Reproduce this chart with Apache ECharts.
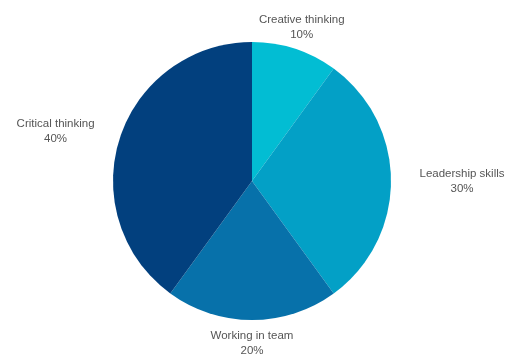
<!DOCTYPE html>
<html>
<head>
<meta charset="utf-8">
<style>
  html, body { margin: 0; padding: 0; background: #ffffff; }
  #chart { width: 507px; height: 358px; }
</style>
<script src="https://cdn.jsdelivr.net/npm/echarts@6/dist/echarts.min.js"></script>
</head>
<body>
<div id="chart"></div>
<script>
const categories = ['Creative thinking', 'Leadership skills', 'Working in team', 'Critical thinking'];
const values = [10, 30, 20, 40];
const colors = ['#02bdd3', '#03a0c6', '#0771aa', '#02407e'];

const chart = echarts.init(document.getElementById('chart'), null, { renderer: 'canvas' });

const total = values.reduce((a, b) => a + b, 0);

chart.setOption({
  animation: false,
  backgroundColor: '#ffffff',
  series: [{
    type: 'pie',
    center: [252, 181],
    radius: 139,
    startAngle: 90,
    clockwise: true,
    avoidLabelOverlap: false,
    data: categories.map((c, i) => ({ name: c, value: values[i], itemStyle: { color: colors[i] } })),
    itemStyle: { borderWidth: 0 },
    label: {
      show: true,
      position: 'outside',
      formatter: p => p.name + '\n' + Math.round(p.value / total * 100) + '%',
      fontFamily: 'Liberation Sans, Arial, sans-serif',
      fontSize: 11.5,
      lineHeight: 15,
      color: '#555555'
    },
    labelLine: { show: true, length: 20, length2: 0, lineStyle: { opacity: 0, width: 0 } },
    emphasis: { disabled: true },
    labelLayout: function (params) {
      const pts = params.labelLinePoints;
      if (!pts) return {};
      const p0 = pts[0], p1 = pts[1];
      const len = Math.hypot(p1[0] - p0[0], p1[1] - p0[1]) || 1;
      const dx = (p1[0] - p0[0]) / len;
      const dy = (p1[1] - p0[1]) / len;
      return {
        x: p0[0] + dx * 71 * Math.abs(dx),
        y: p0[1] + dy * 23,
        align: 'center',
        verticalAlign: 'middle'
      };
    }
  }]
});
</script>
</body>
</html>
